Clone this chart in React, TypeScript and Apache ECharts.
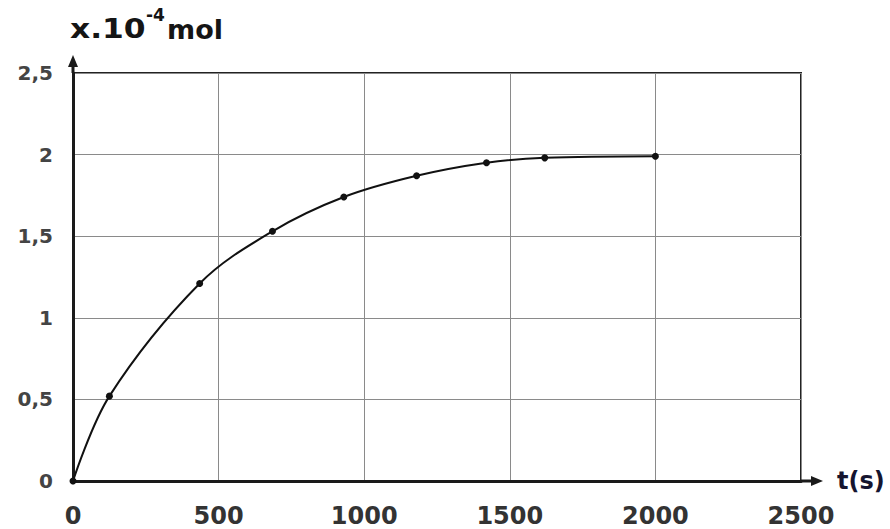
import React, { useEffect, useRef } from "react";
import * as echarts from "echarts";

const times = [0, 125, 435, 685, 930, 1180, 1420, 1620, 2000];
const amounts = [0, 0.52, 1.21, 1.53, 1.74, 1.87, 1.95, 1.98, 1.99];
const xTicks = [0, 500, 1000, 1500, 2000, 2500];
const yTicks = [0, 0.5, 1, 1.5, 2, 2.5];

const FONT = "DejaVu Sans";

export default function App() {
  const ref = useRef<HTMLDivElement>(null);
  useEffect(() => {
    if (!ref.current) return;
    const chart = echarts.init(ref.current, null, { renderer: "svg" });
    chart.setOption({
      animation: false,
      backgroundColor: "#ffffff",
      grid: {
        left: 73,
        right: 89,
        top: 73,
        bottom: 48,
        show: true,
        borderColor: "#222",
        borderWidth: 2,
      },
      xAxis: {
        type: "value",
        min: xTicks[0],
        max: xTicks[xTicks.length - 1],
        interval: 500,
        axisLine: { show: true, onZero: false, lineStyle: { color: "#1a1a1a", width: 3 } },
        axisTick: { show: false },
        splitLine: { show: true, lineStyle: { color: "#8a8a8a", width: 1 } },
        axisLabel: {
          margin: 23,
          fontFamily: FONT,
          fontWeight: "bold",
          fontSize: 24,
          lineHeight: 24,
          color: "#333",
          formatter: (v: number) => String(v),
        },
      },
      yAxis: {
        type: "value",
        min: yTicks[0],
        max: yTicks[yTicks.length - 1],
        interval: 0.5,
        axisLine: { show: true, onZero: false, lineStyle: { color: "#1a1a1a", width: 3 } },
        axisTick: { show: false },
        splitLine: { show: true, lineStyle: { color: "#8a8a8a", width: 1 } },
        axisLabel: {
          margin: 20,
          fontFamily: FONT,
          fontWeight: "bold",
          fontSize: 20,
          color: "#444",
          formatter: (v: number) => String(v).replace(".", ","),
        },
      },
      series: [
        {
          type: "line",
          data: times.map((t, i) => [t, amounts[i]]),
          smooth: 0.35,
          symbol: "circle",
          symbolSize: 7,
          lineStyle: { color: "#111", width: 2 },
          itemStyle: { color: "#111" },
        },
      ],
    });

    const pEnd = chart.convertToPixel({ gridIndex: 0 }, [xTicks[xTicks.length - 1], 0]) as number[];
    const pTop = chart.convertToPixel({ gridIndex: 0 }, [0, yTicks[yTicks.length - 1]]) as number[];

    chart.setOption({
      graphic: [
        { type: "line", shape: { x1: pEnd[0], y1: pEnd[1], x2: pEnd[0] + 14, y2: pEnd[1] }, style: { stroke: "#1a1a1a", lineWidth: 3 } },
        {
          type: "polygon",
          shape: { points: [[pEnd[0] + 10, pEnd[1] - 5], [pEnd[0] + 22, pEnd[1]], [pEnd[0] + 10, pEnd[1] + 5]] },
          style: { fill: "#1a1a1a" },
        },
        { type: "line", shape: { x1: pTop[0], y1: pTop[1], x2: pTop[0], y2: pTop[1] - 10 }, style: { stroke: "#1a1a1a", lineWidth: 3 } },
        {
          type: "polygon",
          shape: { points: [[pTop[0] - 5, pTop[1] - 6], [pTop[0], pTop[1] - 18], [pTop[0] + 5, pTop[1] - 6]] },
          style: { fill: "#1a1a1a" },
        },
        {
          type: "text",
          x: pEnd[0] + 36,
          y: pEnd[1],
          style: { text: "t(s)", font: `bold 24px "${FONT}"`, fill: "#151530", textVerticalAlign: "middle" },
        },
        {
          type: "text",
          x: 70,
          y: 29,
          scaleX: 1.16,
          style: { text: "x.10", font: `bold 27px "${FONT}"`, fill: "#151515", textVerticalAlign: "middle" },
        },
        {
          type: "text",
          x: 146,
          y: 15,
          style: { text: "-4", font: `bold 17px "${FONT}"`, fill: "#151515", textVerticalAlign: "middle" },
        },
        {
          type: "text",
          x: 167,
          y: 29,
          style: { text: "mol", font: `bold 27px "${FONT}"`, fill: "#151515", textVerticalAlign: "middle" },
        },
      ],
    });
    return () => chart.dispose();
  }, []);
  return (
    <div
      ref={ref}
      style={{ position: "absolute", left: 0, top: 0, width: 890, height: 529, background: "#fff" }}
    />
  );
}
